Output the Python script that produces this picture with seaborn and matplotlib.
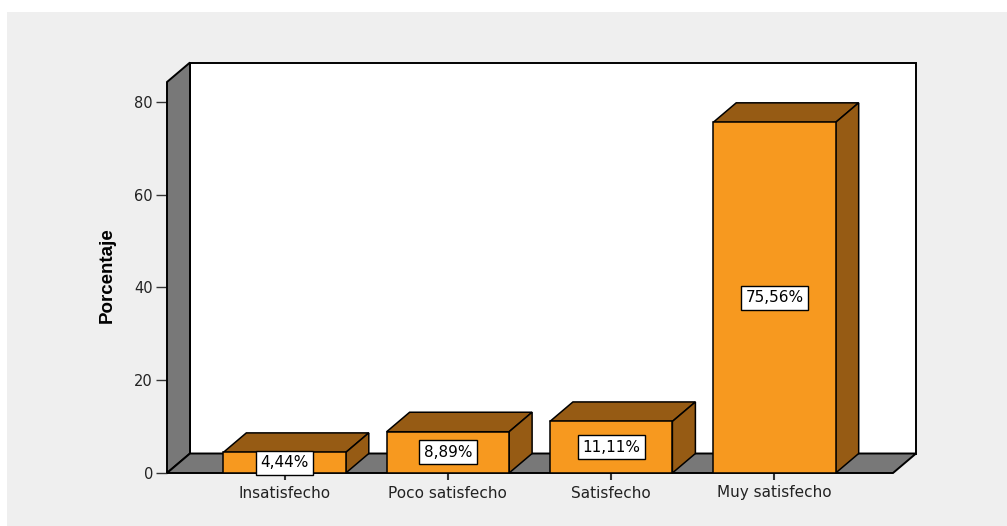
import matplotlib
matplotlib.use("Agg")
import matplotlib.pyplot as plt
from matplotlib.patches import Polygon, Rectangle
import seaborn as sns
import pandas as pd

# Data
categorias = ["Insatisfecho", "Poco satisfecho", "Satisfecho", "Muy satisfecho"]
porcentajes = [4.44, 8.89, 11.11, 75.56]
etiquetas = ["4,44%", "8,89%", "11,11%", "75,56%"]
y_ticks = [0, 20, 40, 60, 80]

ORANGE = "#F7991F"
BROWN = "#965B14"
WALL = "#787878"
PANEL = "#EFEFEF"

sns.set_theme(style="white")
plt.rcParams["font.family"] = ["DejaVu Sans"]

W, H = 1007, 526
fig = plt.figure(figsize=(W / 100, H / 100), dpi=100)
fig.patch.set_facecolor("white")
fig.patches.append(Rectangle((7 / W, 0), 1 - 7 / W, (H - 12) / H,
                             transform=fig.transFigure, facecolor=PANEL,
                             edgecolor="none", zorder=-10))

# front plane of the 3D box
left_px, right_px, bottom_px, top_px = 167, 893, 473, 82
ax = fig.add_axes([left_px / W, (H - bottom_px) / H,
                   (right_px - left_px) / W, (bottom_px - top_px) / H])
ax.set_facecolor("none")

df = pd.DataFrame({"categoria": categorias, "porcentaje": porcentajes})
sns.barplot(data=df, x="categoria", y="porcentaje", color=ORANGE,
            saturation=1, width=0.75, edgecolor="black", linewidth=1.1,
            ax=ax, zorder=5)

xmin, xmax = -0.72, 3.726
ymin, ymax = 0, 84.25
ax.set_xlim(xmin, xmax)
ax.set_ylim(ymin, ymax)

# depth offset expressed in data units
DX_PX, DY_PX = 23, 19.5
dx = DX_PX * (xmax - xmin) / (right_px - left_px)
dy = DY_PX * (ymax - ymin) / (bottom_px - top_px)

# back wall, left wall and floor
ax.add_patch(Rectangle((xmin + dx, ymin + dy), xmax - xmin, ymax - ymin,
                       facecolor="white", edgecolor="black", linewidth=1.4,
                       clip_on=False, zorder=0))
ax.add_patch(Polygon([(xmin, ymin), (xmin, ymax), (xmin + dx, ymax + dy),
                      (xmin + dx, ymin + dy)], closed=True, facecolor=WALL,
                     edgecolor="black", linewidth=1.4, clip_on=False, zorder=1))
ax.add_patch(Polygon([(xmin, ymin), (xmax, ymin), (xmax + dx, ymin + dy),
                      (xmin + dx, ymin + dy)], closed=True, facecolor=WALL,
                     edgecolor="black", linewidth=1.4, clip_on=False, zorder=1))

# top and side faces of each bar, plus value labels
for bar, texto in zip(ax.patches[:len(porcentajes)], etiquetas):
    x0 = bar.get_x()
    x1 = x0 + bar.get_width()
    h = bar.get_height()
    ax.add_patch(Polygon([(x0, h), (x1, h), (x1 + dx, h + dy), (x0 + dx, h + dy)],
                         closed=True, facecolor=BROWN, edgecolor="black",
                         linewidth=1.1, clip_on=False, zorder=4))
    ax.add_patch(Polygon([(x1, 0), (x1, h), (x1 + dx, h + dy), (x1 + dx, dy)],
                         closed=True, facecolor=BROWN, edgecolor="black",
                         linewidth=1.1, clip_on=False, zorder=4))
    ax.text((x0 + x1) / 2, h / 2, texto, ha="center", va="center",
            fontsize=11, color="black", zorder=8,
            bbox=dict(boxstyle="square,pad=0.3", facecolor="white",
                      edgecolor="black", linewidth=1.0))

for s in ax.spines.values():
    s.set_visible(False)

ax.set_yticks(y_ticks)
ax.set_yticklabels([str(v) for v in y_ticks])
ax.tick_params(axis="y", direction="out", length=8, width=1.0, color="#333333",
               labelsize=10.5, labelcolor="#222222", pad=2, left=True)
ax.tick_params(axis="x", direction="out", length=5, width=1.5, color="#333333",
               labelsize=11, labelcolor="#222222", pad=4, bottom=True)

ax.set_xlabel("")
ax.set_ylabel("Porcentaje", fontsize=13.5, fontweight="bold", color="black",
              family=["Liberation Sans"])
ax.yaxis.set_label_coords(-0.071, 0.505)

fig.savefig("out.png", dpi=100, facecolor=fig.get_facecolor())
